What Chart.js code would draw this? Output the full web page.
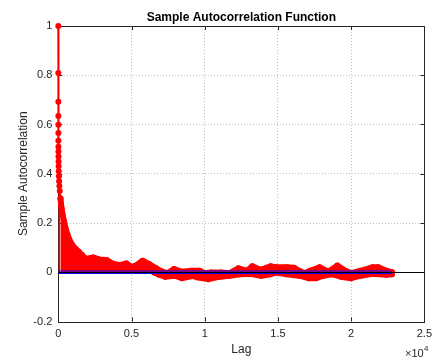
<!DOCTYPE html>
<html>
<head>
<meta charset="utf-8">
<script src="https://cdn.jsdelivr.net/npm/chart.js@4.4.1/dist/chart.umd.min.js"></script>
<style>
  html, body { margin: 0; padding: 0; background: #ffffff; }
  #wrap { width: 438px; height: 361px; position: relative; }
</style>
</head>
<body>
<div id="wrap"><canvas id="c" width="438" height="361"></canvas></div>
<script>
// ---- Data ----
const titleText = 'Sample Autocorrelation Function';
const xLabelText = 'Lag';
const yLabelText = 'Sample Autocorrelation';

// upper envelope of the stems (lag, autocorrelation)
const lagsUpper = [0,1,2,3,4,5,6,8,10,13,17,22,30,40,55,75,100,150,220,290,510,730,960,1180,1400,1620,1800,2100,2400,2800,3300,3700,4200,4650,4950,5300,5750,6200,6650,7000,7450,7900,8450,9100,9650,9980,10450,11100,11700,12300,12900,13250,13800,14500,14900,15600,16100,16450,16800,17200,17850,18450,19050,19600,20000,20650,21450,21850,22400,22780];
const acfUpper = [1.0,0.809,0.692,0.635,0.599,0.565,0.534,0.51,0.49,0.47,0.45,0.43,0.41,0.39,0.37,0.35,0.33,0.30,0.26,0.235,0.175,0.135,0.11,0.095,0.083,0.07,0.057,0.056,0.06,0.052,0.05,0.035,0.029,0.036,0.022,0.027,0.047,0.033,0.017,0.005,-0.004,0.013,0.002,0.006,0.006,-0.004,-0.001,-0.001,-0.004,0.016,0.006,0.024,0.01,0.024,0.02,0.02,0.018,0.006,-0.004,0.006,0.02,0.002,0.027,0.006,-0.004,0.006,0.02,0.02,0.006,0.0];

// lower envelope of the stems
const lagsLower = [6550,6900,7300,7950,8450,9250,9450,10250,11050,11700,12400,13100,13850,14500,14900,15600,16450,17100,17600,18100,18650,19300,20000,20650,21450,22400,22780];
const acfLower = [-0.001,-0.01,-0.018,-0.014,-0.024,-0.014,-0.02,-0.028,-0.018,-0.014,-0.008,-0.006,-0.014,-0.008,-0.001,-0.008,-0.014,-0.024,-0.024,-0.014,-0.008,-0.018,-0.024,-0.014,-0.006,-0.01,-0.008];

// confidence bounds
const boundLags = [0, 22780];
const confBound = 0.005;

// axis ticks
const xTicks = [0, 5000, 10000, 15000, 20000, 25000];
const yTicks = [-0.2, 0, 0.2, 0.4, 0.6, 0.8, 1];
const xExponent = '4';

// ---- build ----
const toXY = (xs, ys) => xs.map((x, i) => ({ x: x, y: ys[i] }));
const RED = '#ff0000';
const AXIS = '#262626';
const GRID = '#bcbcbc';
const FONT = "'Liberation Sans', Arial, sans-serif";

const stemStyle = {
  borderColor: RED,
  backgroundColor: RED,
  pointBackgroundColor: RED,
  pointBorderColor: RED,
  pointRadius: 3,
  pointBorderWidth: 0,
  pointHoverRadius: 3,
  tension: 0,
  borderJoinStyle: 'round',
  borderCapStyle: 'round',
  fill: { value: 0 },
  clip: false,
  order: 3
};

const boxPlugin = {
  id: 'matlabBox',
  beforeDatasetsDraw(chart) {
    const { ctx, chartArea: a, scales } = chart;
    ctx.save();
    ctx.strokeStyle = AXIS;
    ctx.lineWidth = 1;
    ctx.strokeRect(Math.round(a.left) + 0.5, Math.round(a.top) + 0.5,
                   Math.round(a.right - a.left), Math.round(a.bottom - a.top));
    ctx.beginPath();
    xTicks.forEach(v => {
      const px = Math.round(scales.x.getPixelForValue(v)) + 0.5;
      ctx.moveTo(px, a.bottom); ctx.lineTo(px, a.bottom - 4);
      ctx.moveTo(px, a.top); ctx.lineTo(px, a.top + 4);
    });
    yTicks.forEach(v => {
      const py = Math.round(scales.y.getPixelForValue(v)) + 0.5;
      ctx.moveTo(a.left, py); ctx.lineTo(a.left + 4, py);
      ctx.moveTo(a.right, py); ctx.lineTo(a.right - 4, py);
    });
    ctx.stroke();
    ctx.restore();
  },
  afterDatasetsDraw(chart) {
    const { ctx, chartArea: a, scales } = chart;
    const y0 = Math.round(scales.y.getPixelForValue(0)) + 0.5;
    ctx.save();
    ctx.strokeStyle = '#000000';
    ctx.lineWidth = 1;
    ctx.beginPath();
    ctx.moveTo(a.left, y0); ctx.lineTo(a.right, y0);
    ctx.stroke();
    ctx.restore();
  },
  afterDraw(chart) {
    const { ctx, chartArea: a } = chart;
    const cx = (a.left + a.right) / 2;
    ctx.save();
    ctx.fillStyle = '#000000';
    ctx.font = 'bold 12px ' + FONT;
    ctx.textAlign = 'center';
    ctx.textBaseline = 'middle';
    ctx.fillText(titleText, cx, a.top - 8.5);

    ctx.fillStyle = AXIS;
    ctx.font = '12px ' + FONT;
    ctx.fillText(xLabelText, cx, a.bottom + 28.5);

    ctx.save();
    ctx.translate(24, (a.top + a.bottom) / 2);
    ctx.rotate(-Math.PI / 2);
    ctx.fillText(yLabelText, 0, 0);
    ctx.restore();

    // x10^4 multiplier
    ctx.textAlign = 'left';
    ctx.font = '11px ' + FONT;
    ctx.fillText('\u00d710', 405, a.bottom + 32);
    ctx.font = '8px ' + FONT;
    ctx.fillText(xExponent, 424, a.bottom + 27);
    ctx.restore();
  }
};

new Chart(document.getElementById('c'), {
  type: 'line',
  data: {
    datasets: [
      Object.assign({}, stemStyle, {
        label: 'ACF upper',
        data: toXY(lagsUpper, acfUpper),
        borderWidth: 6,
        segment: {
          borderWidth: c => (c.p0.parsed.x < 150 ? 2 : 6)
        }
      }),
      Object.assign({}, stemStyle, {
        label: 'ACF lower',
        data: toXY(lagsLower, acfLower),
        borderWidth: 6
      }),
      {
        label: 'upper bound',
        data: toXY(boundLags, boundLags.map(() => confBound)),
        borderColor: '#0000ff', borderWidth: 1, pointRadius: 0, fill: false, order: 1
      },
      {
        label: 'lower bound',
        data: toXY(boundLags, boundLags.map(() => -confBound)),
        borderColor: '#0000ff', borderWidth: 1, pointRadius: 0, fill: false, order: 1
      }
    ]
  },
  options: {
    responsive: false,
    animation: false,
    devicePixelRatio: 1,
    layout: { padding: { top: 26, right: 5.5, left: 0, bottom: 0 } },
    plugins: {
      legend: { display: false },
      title: { display: false },
      tooltip: { enabled: false }
    },
    events: [],
    scales: {
      x: {
        type: 'linear',
        min: 0, max: 25000,
        afterFit: s => { s.height = 39.5; },
        afterBuildTicks: s => { s.ticks = xTicks.map(v => ({ value: v })); },
        ticks: {
          padding: 6,
          color: AXIS,
          font: { family: FONT, size: 11 },
          maxRotation: 0,
          autoSkip: false,
          callback: v => String(v / 10000)
        },
        grid: {
          drawTicks: false,
          color: c => (c.tick && (c.tick.value === 0 || c.tick.value === 25000)) ? 'rgba(0,0,0,0)' : GRID,
          lineWidth: 1
        },
        border: { display: false, dash: [1, 2] }
      },
      y: {
        type: 'linear',
        min: -0.2, max: 1,
        afterFit: s => { s.width = 58.3; },
        afterBuildTicks: s => { s.ticks = yTicks.map(v => ({ value: v })); },
        ticks: {
          padding: 6,
          color: AXIS,
          font: { family: FONT, size: 11 },
          callback: v => String(Math.round(v * 10) / 10)
        },
        grid: {
          drawTicks: false,
          color: c => (c.tick && (c.tick.value === -0.2 || c.tick.value === 1)) ? 'rgba(0,0,0,0)' : GRID,
          lineWidth: 1
        },
        border: { display: false, dash: [1, 2] }
      }
    }
  },
  plugins: [boxPlugin]
});
</script>
</body>
</html>
